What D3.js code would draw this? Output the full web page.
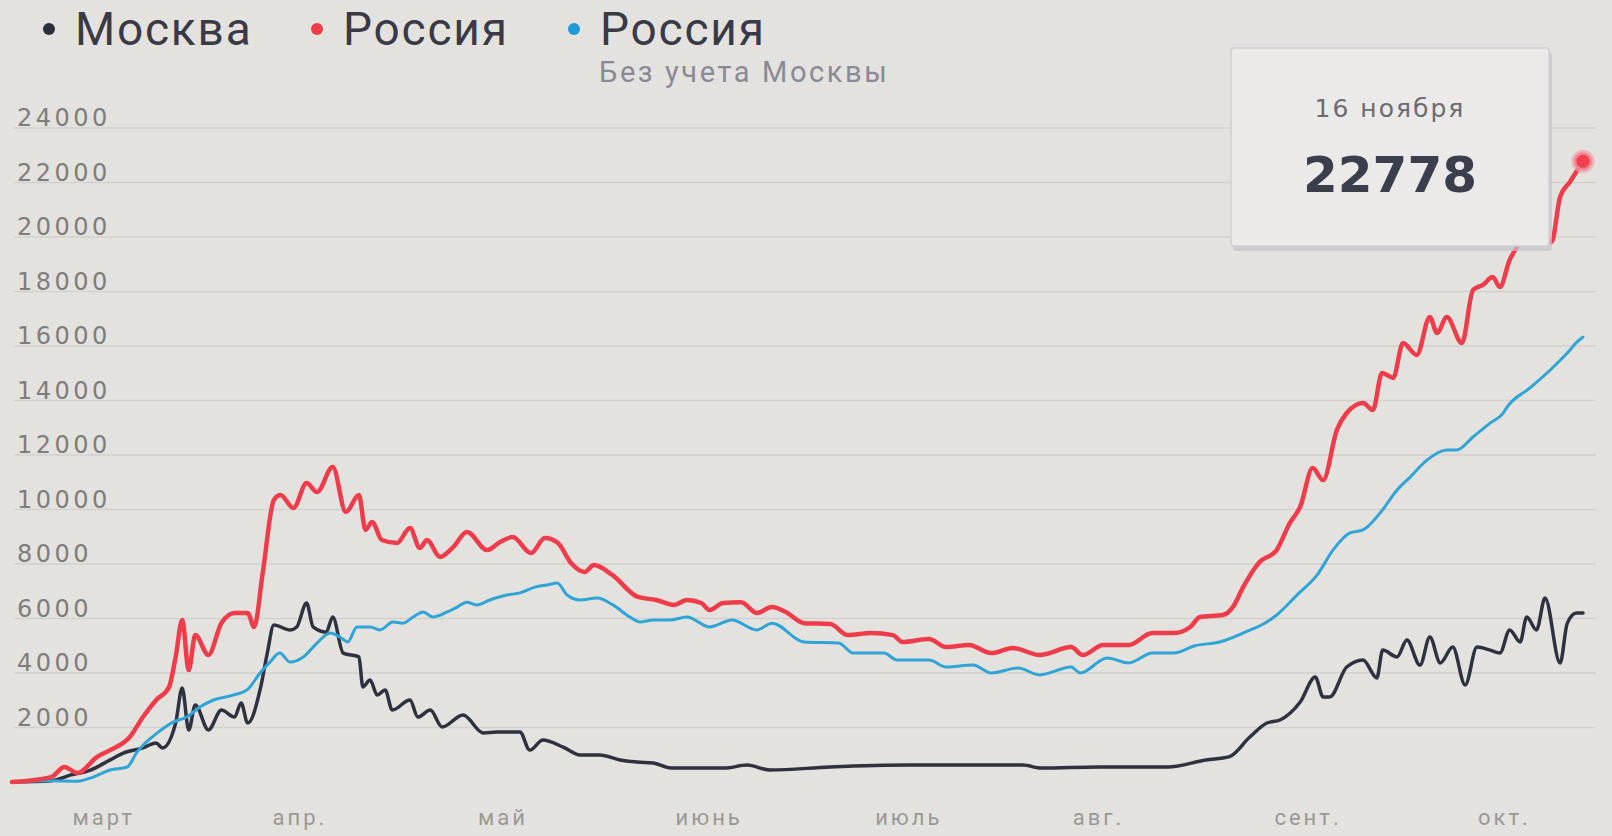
<!DOCTYPE html>
<html>
<head>
<meta charset="utf-8">
<script src="https://cdn.jsdelivr.net/npm/d3@7"></script>
<style>
	html, body { margin: 0; padding: 0; background: #e4e2de; }
	#chart { width: 1612px; height: 836px; }
</style>
</head>
<body>
<div id="chart"></div>
<script>
//**********************************
// data : day index from start, daily new cases
//**********************************
var moscow_days = [0,6,9,12,15,17,20,22,23,25,26,27,28,30,32,34,35,36,38,39,40,42.5,43.5,45,46,48,49,50.6,53,53.6,54.7,55.8,57,58.1,60.8,62,63.9,65.7,68.9,72,74.1,77.6,79.1,81.1,84.2,86.8,89.8,92.9,95.5,97.9,100.7,108.8,112.3,115.8,125,137,154.4,157.3,166.1,176.6,182.4,185.9,189.1,191.7,193.7,196.8,199.1,200.3,201.3,203.9,206.4,208.5,209.4,211.6,213.1,215.1,216.6,218.2,220.1,222,223.8,225.8,227.3,228.8,230.4,231.4,232.9,234.2,236.5,237.6,239,240];
var moscow_vals = [0,50,260,440,810,1060,1250,1430,1250,2165,3450,1910,2830,1910,2640,2385,2900,2165,3490,4730,5760,5580,5690,6570,5690,5500,6055,4730,4590,3490,3740,3190,3380,2640,3010,2385,2640,2020,2460,1800,1835,1835,1170,1540,1280,990,990,810,730,700,510,510,620,440,550,620,620,510,550,550,810,920,1650,2165,2275,2935,3850,3120,3120,4220,4480,3820,4840,4590,5210,4290,5320,4370,4950,3560,4950,4840,4730,5580,5140,6055,5580,6750,4370,5830,6200,6200];

var russia_days = [0,6,8,10,13,15,18,20,22,24,25,26,27,28,30,32,34,36,37,38.3,40,41,43,45,46.6,49,51,53,54,55,56.5,58.8,60.8,62.3,63.4,65.4,67.4,69.5,72.6,74.5,76.5,79.3,81.4,83.4,85.4,87.5,88.9,91.7,95.6,98.4,101.1,103.1,105.3,106.6,108.6,111.4,113.8,116.1,118.2,121,125,127.7,131.2,134.6,136,140.1,142.7,146.2,149.6,152.9,157,161.8,163.6,166.7,170.6,174.2,177.5,180,181.5,185,186.5,188.1,190.6,193.2,195.2,196.8,198.7,200.3,202.4,203.9,206.4,207.9,209.3,211,212.5,214.6,216.6,217.7,219.2,221.5,223.2,224.7,226.2,227.3,228.8,229.9,232.7,235.2,236.5,238,240];
var russia_vals = [0,180,550,330,920,1170,1650,2385,3000,3490,4590,5945,4110,5394,4660,5835,6200,6200,5690,7670,10350,10530,10055,10970,10640,11560,9910,10530,9250,9540,8880,8770,9320,8590,8880,8260,8620,9170,8510,8800,8990,8400,8950,8770,8040,7710,7960,7600,6790,6680,6500,6680,6570,6310,6570,6600,6200,6420,6240,5830,5800,5390,5470,5390,5140,5250,4950,5030,4730,4920,4660,4950,4660,5030,5030,5470,5470,5690,6055,6130,6420,7160,8070,8510,9500,10100,11520,11080,12920,13540,13910,13650,15010,14830,16110,15670,17060,16480,17060,16110,18055,18240,18530,18165,19160,19630,20500,19820,21470,22020,22778];

var regions_days = [0,6,10,12.4,15,17.6,19.1,22.2,24.6,26.7,28.7,30.7,33.8,35.9,37.9,39.4,40.9,42.5,44.5,46.6,48.6,50.1,51.3,52.7,54.7,56.2,58.2,59.7,61.3,62.8,64.3,66.5,68,69.5,71,73,75.6,77.6,80,81.7,83.3,84.8,86.8,89.4,91.8,94.4,96,97.9,100.5,103.1,106.6,110,113.8,116.1,121,126.3,128.5,133.2,135.2,140.1,142.7,146.8,149.6,153.7,157,161.8,163.2,167.3,170.6,174.2,177.5,180.7,184.5,188.4,191.7,193.2,196.3,199.4,201.8,204.4,206.4,209,211.6,213.6,216.2,219.2,220.7,223.2,225.8,227.8,228.4,231.9,235,237.6,239.1,240];
var regions_vals = [0,50,30,180,440,550,1100,1800,2200,2385,2750,3000,3190,3380,4000,4400,4730,4400,4590,5100,5470,5320,5140,5690,5690,5580,5870,5830,6055,6240,6055,6240,6420,6600,6500,6680,6860,6940,7160,7230,7300,6860,6680,6750,6500,6055,5870,5945,5945,6055,5690,5945,5580,5830,5140,5100,4730,4730,4480,4480,4220,4290,4000,4180,3930,4220,4000,4550,4370,4730,4730,5000,5140,5500,5870,6130,6860,7600,8510,9140,9250,9870,10715,11190,11820,12180,12180,12660,13170,13540,13760,14460,15120,15740,16150,16330];

var y_ticks = [2000,4000,6000,8000,10000,12000,14000,16000,18000,20000,22000,24000];
var month_labels = ["март","апр.","май","июнь","июль","авг.","сент.","окт."];
var month_days = [14,44,75,106.5,137,166,198,228];

var legend_items = [
	{ label : "Москва", color : "#2b2f3c", x : 49 },
	{ label : "Россия", color : "#f03c4a", x : 317 },
	{ label : "Россия", color : "#1f9ad6", x : 574 }
];
var legend_note = "Без учета Москвы";

var tip_date = "16 ноября";
var tip_value = 22778;

//**********************************
// chart
//**********************************
var width = 1612, height = 836;
var svg = d3.select("#chart").append("svg")
	.attr("width", width)
	.attr("height", height)
	.style("display", "block");

svg.append("rect")
	.attr("width", width)
	.attr("height", height)
	.style("fill", "#e4e2de");

var scaleX = d3.scaleLinear().domain([0, 240]).range([12, 1583]);
var scaleY = d3.scaleLinear().domain([0, 24000]).range([782, 128]);

// grid
svg.append("g").selectAll("line").data(y_ticks).enter()
	.append("line")
	.attr("x1", 14)
	.attr("x2", 1596)
	.attr("y1", function(d){ return scaleY(d); })
	.attr("y2", function(d){ return scaleY(d); })
	.style("stroke", "#d3d1cd")
	.style("stroke-width", 1.5);

svg.append("g").selectAll("text").data(y_ticks).enter()
	.append("text")
	.attr("x", 17)
	.attr("y", function(d){ return scaleY(d) - 9; })
	.style("font-family", "DejaVu Sans")
	.style("font-size", "24px")
	.style("letter-spacing", "3.5px")
	.style("fill", "#7f7d7b")
	.style("dominant-baseline", "middle")
	.text(function(d){ return d; });

svg.append("g").selectAll("text").data(month_labels).enter()
	.append("text")
	.attr("x", function(d, i){ return scaleX(month_days[i]); })
	.attr("y", 819)
	.style("font-family", "Roboto")
	.style("font-size", "22px")
	.style("letter-spacing", "3px")
	.style("fill", "#9a9896")
	.style("text-anchor", "middle")
	.style("dominant-baseline", "middle")
	.text(function(d){ return d; });

// lines
var series = [
	{ days : moscow_days, vals : moscow_vals, color : "#2d3140", width : 3.5 },
	{ days : regions_days, vals : regions_vals, color : "#2fa4d6", width : 3 },
	{ days : russia_days, vals : russia_vals, color : "#f03c4a", width : 4.5 }
];

var line = d3.line()
	.x(function(d){ return scaleX(d[0]); })
	.y(function(d){ return scaleY(d[1]); })
	.curve(d3.curveMonotoneX);

svg.append("g").selectAll("path").data(series).enter()
	.append("path")
	.attr("d", function(s){
		return line(s.days.map(function(day, i){ return [day, s.vals[i]]; }));
	})
	.style("fill", "none")
	.style("stroke", function(s){ return s.color; })
	.style("stroke-width", function(s){ return s.width; })
	.style("stroke-linejoin", "round")
	.style("stroke-linecap", "round");

// legend
var legend = svg.append("g");
legend.selectAll("circle").data(legend_items).enter()
	.append("circle")
	.attr("cx", function(d){ return d.x; })
	.attr("cy", 29)
	.attr("r", 6)
	.style("fill", function(d){ return d.color; });

legend.selectAll("text").data(legend_items).enter()
	.append("text")
	.attr("x", function(d){ return d.x + 26; })
	.attr("y", 29)
	.style("font-family", "Roboto")
	.style("font-size", "46px")
	.style("letter-spacing", "1.8px")
	.style("fill", "#3a3946")
	.style("dominant-baseline", "central")
	.text(function(d){ return d.label; });

legend.append("text")
	.attr("x", 599)
	.attr("y", 72)
	.style("font-family", "Roboto")
	.style("font-size", "29px")
	.style("letter-spacing", "2.6px")
	.style("fill", "#8a8996")
	.style("dominant-baseline", "central")
	.text(legend_note);

// tooltip
var tip = svg.append("g");
tip.append("rect")
	.attr("x", 1233)
	.attr("y", 52)
	.attr("width", 319)
	.attr("height", 199)
	.attr("rx", 3)
	.style("fill", "#c4c3cc")
	.style("opacity", 0.7);
tip.append("rect")
	.attr("x", 1231)
	.attr("y", 48)
	.attr("width", 318)
	.attr("height", 198)
	.attr("rx", 3)
	.style("fill", "#ebeae8")
	.style("stroke", "#cfcfd6")
	.style("stroke-width", 1.5);
tip.append("text")
	.attr("x", 1390)
	.attr("y", 108)
	.style("font-family", "DejaVu Sans")
	.style("font-size", "25px")
	.style("letter-spacing", "2px")
	.style("fill", "#6c6b70")
	.style("text-anchor", "middle")
	.style("dominant-baseline", "central")
	.text(tip_date);
tip.append("text")
	.attr("x", 1390)
	.attr("y", 175)
	.style("font-family", "DejaVu Sans")
	.style("font-weight", "bold")
	.style("font-size", "50px")
	.style("fill", "#3b3e4c")
	.style("text-anchor", "middle")
	.style("dominant-baseline", "central")
	.text(tip_value);

// hovered point
var last = russia_days.length - 1;
svg.append("circle")
	.attr("cx", scaleX(russia_days[last]))
	.attr("cy", scaleY(russia_vals[last]))
	.attr("r", 9)
	.style("fill", "#f0404e")
	.style("stroke", "#f0a0aa")
	.style("stroke-opacity", 0.7)
	.style("stroke-width", 5);
</script>
</body>
</html>
